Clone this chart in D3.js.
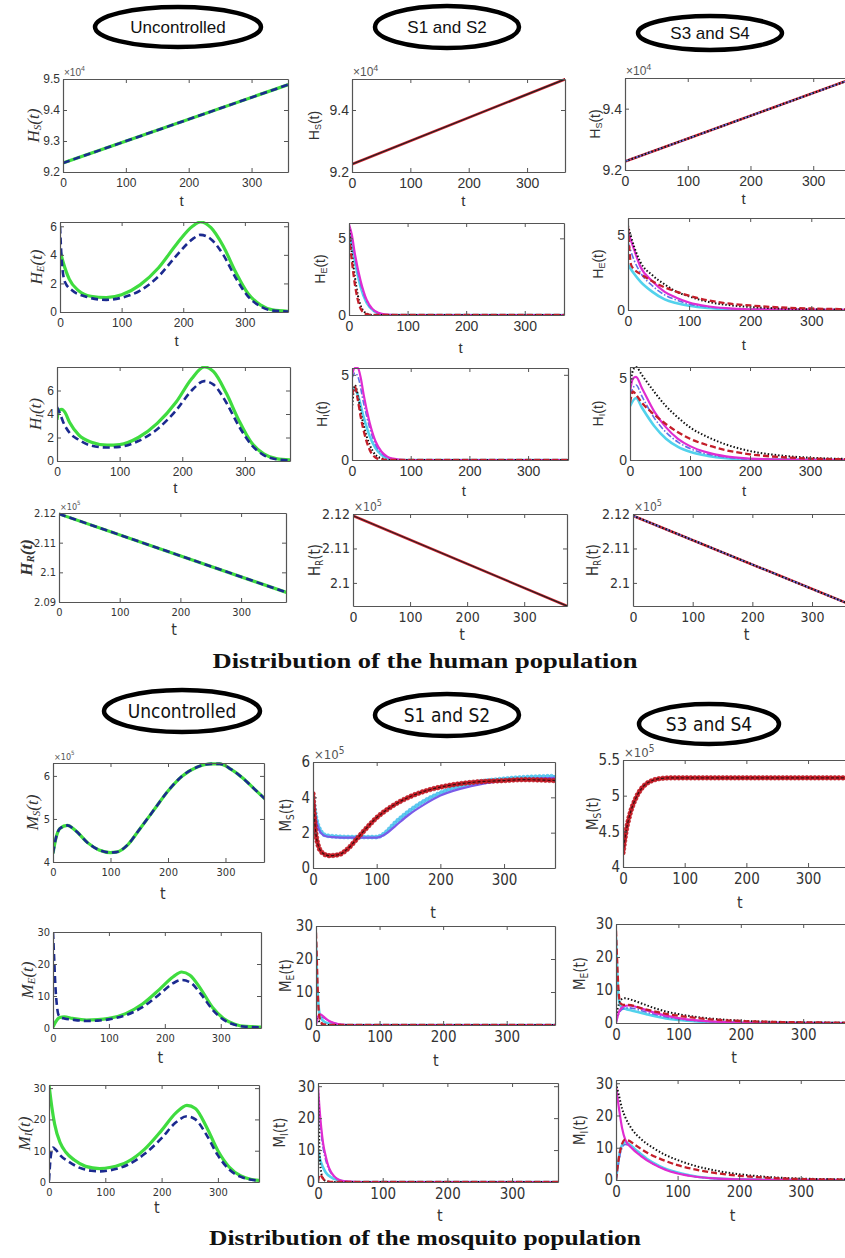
<!DOCTYPE html>
<html>
<head>
<meta charset="UTF-8">
<title>Human and mosquito populations</title>
<script src="https://d3js.org/d3.v7.min.js"></script>
<style>
  body { margin: 0; background: #fff; }
  svg { display: block; }
</style>
</head>
<body>
<div id="fig"></div>
<script>
// ---------- data (t, value) ----------
const tTicks = [0, 100, 200, 300];
const headers = ["Uncontrolled", "S1 and S2", "S3 and S4"];
const captions = ["Distribution of the human population", "Distribution of the mosquito population"];

// H_S (x10^4)
const hsUnc = [[0, 9.229], [370, 9.49]];
const hsS12 = [[0, 9.225], [370, 9.503]];
const hsS34 = [[0, 9.228], [370, 9.503]];

// H_E
const heUncGreen = [[0,4.3],[5,3.5],[15,2.3],[30,1.5],[50,1.1],[75,1.0],[100,1.2],[130,1.9],[160,3.1],[190,4.8],[215,6.0],[228,6.3],[245,5.9],[265,4.6],[285,2.8],[305,1.3],[325,0.5],[345,0.15],[372,0.05]];
const heUncNavy = [[0,6.0],[3,3.5],[8,2.1],[20,1.5],[40,1.1],[75,0.85],[100,1.0],[130,1.5],[160,2.5],[190,4.0],[215,5.1],[228,5.4],[245,5.1],[265,4.0],[285,2.4],[305,1.1],[325,0.4],[345,0.1],[372,0.03]];
const heS12Mag = [[0,5.9],[5,5.2],[10,4.0],[20,2.2],[30,1.0],[40,0.4],[50,0.15],[60,0.05],[80,0],[370,0]];
const heS12Blue = [[0,5.8],[5,5.0],[10,3.8],[20,2.0],[30,0.9],[40,0.35],[50,0.12],[60,0.03],[80,0],[370,0]];
const heS12Cyan = [[0,5.5],[10,3.5],[20,1.8],[30,0.8],[45,0.2],[60,0],[370,0]];
const heS12Black = [[0,5.8],[5,4.0],[10,2.5],[15,1.3],[20,0.6],[30,0.1],[40,0],[370,0]];
const heS12Red = [[0,5.2],[5,3.5],[10,2.0],[15,1.0],[20,0.4],[30,0.05],[40,0],[370,0]];
const heS34Black = [[0,5.6],[10,4.2],[20,3.2],[40,2.3],[60,1.7],[80,1.2],[100,0.9],[130,0.55],[160,0.35],[200,0.2],[250,0.1],[300,0.05],[370,0.02]];
const heS34Red = [[0,5.5],[5,3.0],[10,2.7],[20,2.4],[40,1.9],[60,1.5],[80,1.2],[100,0.95],[130,0.65],[160,0.45],[200,0.3],[250,0.17],[300,0.1],[370,0.05]];
const heS34Mag = [[0,5.2],[10,4.0],[20,2.9],[40,1.9],[60,1.2],[80,0.8],[100,0.5],[130,0.25],[160,0.12],[200,0.05],[370,0]];
const heS34Cyan = [[0,3.0],[10,2.4],[20,1.9],[40,1.2],[60,0.7],[80,0.45],[100,0.28],[130,0.13],[160,0.06],[200,0.02],[370,0]];
const heS34Blue = [[0,4.5],[10,3.3],[20,2.5],[40,1.6],[60,1.0],[80,0.65],[100,0.4],[130,0.2],[160,0.1],[200,0.03],[370,0]];

// H_I
const hiUncGreen = [[0,3.5],[3,4.3],[8,4.4],[12,4.2],[20,3.3],[35,2.2],[55,1.6],[80,1.35],[100,1.4],[130,2.0],[160,3.2],[190,5.0],[215,7.0],[235,8.0],[250,7.6],[270,5.8],[290,3.5],[310,1.6],[330,0.6],[350,0.2],[375,0.08]];
const hiUncNavy = [[0,4.6],[5,4.0],[10,3.3],[20,2.4],[35,1.8],[55,1.3],[80,1.15],[100,1.2],[130,1.7],[160,2.7],[190,4.3],[215,6.0],[235,6.8],[250,6.5],[270,5.0],[290,3.0],[310,1.4],[330,0.5],[350,0.15],[375,0.05]];
const hiS12Mag = [[0,5.0],[5,5.4],[10,5.4],[15,4.8],[20,3.8],[30,2.2],[40,1.1],[50,0.5],[60,0.2],[70,0.08],[90,0],[370,0]];
const hiS12Blue = [[0,4.8],[5,5.1],[10,4.9],[20,3.3],[30,1.9],[40,0.9],[50,0.4],[60,0.15],[70,0.05],[90,0],[370,0]];
const hiS12Cyan = [[0,4.0],[5,4.2],[10,3.8],[20,2.5],[30,1.4],[40,0.7],[50,0.3],[60,0.1],[80,0],[370,0]];
const hiS12Black = [[0,3.0],[5,4.4],[10,3.8],[15,2.8],[20,2.0],[30,0.9],[40,0.3],[50,0.1],[60,0],[370,0]];
const hiS12Red = [[0,3.8],[5,4.3],[10,3.5],[15,2.5],[20,1.7],[30,0.6],[40,0.15],[50,0.03],[60,0],[370,0]];
const hiS34Black = [[0,4.5],[5,5.5],[10,5.7],[20,5.2],[40,4.2],[60,3.3],[80,2.6],[100,2.0],[130,1.4],[160,0.95],[200,0.55],[250,0.28],[300,0.14],[370,0.06]];
const hiS34Red = [[0,3.5],[5,4.2],[10,4.0],[20,3.5],[40,2.8],[60,2.2],[80,1.7],[100,1.3],[130,0.9],[160,0.6],[200,0.35],[250,0.18],[300,0.09],[370,0.04]];
const hiS34Mag = [[0,4.2],[5,5.0],[10,5.1],[20,4.4],[40,3.0],[60,2.0],[80,1.3],[100,0.85],[130,0.45],[160,0.22],[200,0.09],[250,0.03],[370,0]];
const hiS34Blue = [[0,4.0],[10,4.6],[20,3.9],[40,2.6],[60,1.7],[80,1.1],[100,0.7],[130,0.35],[160,0.17],[200,0.06],[370,0]];
const hiS34Cyan = [[0,3.3],[10,3.8],[20,3.2],[40,2.1],[60,1.3],[80,0.8],[100,0.5],[130,0.25],[160,0.11],[200,0.04],[370,0]];

// H_R (x10^5)
const hrUnc = [[0, 2.1197], [375, 2.0932]];
const hrS12 = [[0, 2.1195], [375, 2.0933]];
const hrS34 = [[0, 2.1195], [370, 2.0933]];

// M_S (x10^5)
const msUnc = [[0,4.2],[5,4.55],[12,4.78],[25,4.85],[40,4.72],[60,4.45],[80,4.28],[100,4.22],[110,4.23],[130,4.4],[150,4.75],[175,5.2],[200,5.65],[225,6.0],[250,6.2],[275,6.28],[290,6.28],[310,6.15],[330,5.95],[350,5.7],[370,5.45]];
const msS12Red = [[0,4.2],[3,2.5],[8,1.3],[15,0.85],[25,0.7],[40,0.75],[55,1.1],[70,1.7],[85,2.3],[100,2.85],[120,3.4],[150,4.0],[180,4.4],[210,4.65],[250,4.85],[300,4.95],[330,5.0],[380,4.95]];
const msS12Cyan = [[0,4.0],[5,2.8],[12,2.1],[20,1.85],[30,1.8],[60,1.75],[100,1.75],[110,1.9],[130,2.6],[150,3.2],[175,3.8],[200,4.25],[250,4.8],[300,5.05],[380,5.2]];
const msS12Blue = [[0,3.8],[5,2.7],[12,2.0],[20,1.8],[30,1.75],[60,1.72],[100,1.72],[115,1.95],[130,2.4],[150,3.0],[175,3.6],[200,4.1],[250,4.65],[300,4.95],[380,5.1]];
const msS34Red = [[0,4.2],[5,4.5],[10,4.7],[20,4.95],[30,5.1],[40,5.18],[50,5.22],[60,5.24],[80,5.25],[380,5.25]];

// M_E
const meUncGreen = [[0,0.3],[5,2],[12,3.3],[20,3.5],[35,3.0],[60,2.5],[80,2.6],[100,3.0],[130,4.5],[160,7.5],[190,12],[215,16],[230,17.5],[245,16.5],[265,12],[285,6.5],[305,3],[325,1.2],[345,0.5],[375,0.3]];
const meUncNavy = [[0,30],[2,22],[4,14],[7,7],[10,4],[15,3.2],[20,3.0],[35,2.6],[60,2.2],[80,2.3],[100,2.7],[130,4],[160,6.5],[190,10.5],[215,14],[230,15],[245,14.3],[265,10.5],[285,5.8],[305,2.6],[325,1.0],[345,0.4],[375,0.2]];
const meS12Red = [[0,28],[1,22],[2,15],[3,9],[5,3],[8,0.8],[12,0.2],[20,0],[380,0]];
const meS12Cyan = [[0,25],[1,18],[2,12],[4,6],[6,3],[10,1.5],[15,0.8],[25,0.3],[40,0],[380,0]];
const meS12Mag = [[0,0],[3,2.5],[7,3.2],[12,2.5],[20,1.3],[30,0.5],[40,0.1],[50,0],[380,0]];
const meS12Blue = [[0,0],[3,2.0],[7,2.6],[12,2.2],[20,1.2],[30,0.5],[40,0.1],[50,0],[380,0]];
const meS12Black = [[0,2],[3,1.5],[8,0.5],[15,0.1],[20,0],[380,0]];
const meS34Red = [[0,28],[2,18],[4,10],[7,6],[12,5.5],[20,5.5],[40,4.5],[60,3.6],[80,2.8],[100,2.2],[130,1.5],[160,1.0],[200,0.6],[250,0.35],[300,0.2],[380,0.1]];
const meS34Black = [[0,2],[5,6],[10,7.3],[15,7.5],[25,7.0],[40,6],[60,4.6],[80,3.5],[100,2.7],[130,1.8],[160,1.2],[200,0.7],[250,0.35],[300,0.18],[380,0.08]];
const meS34Mag = [[0,0],[5,3.5],[12,5],[20,5.3],[30,5.0],[50,3.8],[70,2.7],[100,1.5],[130,0.8],[160,0.4],[200,0.15],[250,0.05],[380,0]];
const meS34Cyan = [[0,26],[2,15],[4,8],[8,5],[15,4.3],[25,3.8],[50,2.6],[80,1.4],[100,0.9],[130,0.45],[160,0.2],[200,0.07],[380,0]];
const meS34Blue = [[0,0],[5,3],[12,4.3],[20,4.6],[30,4.3],[50,3.2],[70,2.2],[100,1.2],[130,0.6],[160,0.3],[200,0.1],[380,0]];

// M_I
const miUncGreen = [[0,31],[5,24],[10,18.5],[20,12.5],[30,9.5],[45,7],[65,5],[90,4.3],[110,4.7],[140,6.5],[170,10.5],[200,16.5],[225,22],[245,24.5],[260,23.5],[280,17.5],[300,10],[320,4.8],[340,2],[360,0.8],[375,0.5]];
const miUncNavy = [[0,0.5],[3,8],[7,11],[12,10.3],[20,8.5],[35,6.5],[55,4.5],[75,3.6],[90,3.4],[110,3.8],[140,5.5],[170,9],[200,14],[225,19],[245,21],[260,20],[280,15],[300,8.5],[320,4],[340,1.7],[360,0.7],[375,0.4]];
const miS12Mag = [[0,30],[2,24],[5,17],[8,12],[12,8],[16,5],[20,3.2],[25,1.8],[30,1.0],[40,0.3],[50,0.1],[60,0],[380,0]];
const miS12Blue = [[0,29],[2,22],[5,15],[8,10.5],[12,6.8],[16,4.3],[20,2.8],[25,1.6],[30,0.9],[40,0.25],[50,0.05],[60,0],[380,0]];
const miS12Cyan = [[0,10],[2,8],[5,6],[8,4.5],[12,3],[20,1.5],[30,0.6],[40,0.15],[50,0],[380,0]];
const miS12Black = [[0,30],[1,20],[2,12],[3,7],[5,3],[8,1],[12,0.3],[20,0],[380,0]];
const miS12Red = [[0,0],[2,2],[4,2.3],[6,1.6],[10,0.6],[15,0.2],[25,0],[380,0]];
const miS34Black = [[0,30],[5,26],[10,22],[15,19.5],[25,16],[40,12.8],[60,10],[80,7.8],[100,6.2],[130,4.3],[160,3.0],[200,1.8],[250,0.9],[300,0.45],[385,0.2]];
const miS34Red = [[0,0],[4,6],[8,10],[15,12.5],[20,12.3],[30,11],[50,8.5],[70,6.7],[100,4.6],[130,3.2],[160,2.2],[200,1.3],[250,0.65],[300,0.3],[385,0.12]];
const miS34Mag = [[0,29],[5,22],[10,16],[15,12.5],[25,10],[40,7.5],[60,5.0],[80,3.2],[100,2.0],[130,1.0],[160,0.5],[200,0.2],[250,0.05],[385,0]];
const miS34Cyan = [[0,0],[4,6],[8,10],[15,11.7],[20,11.3],[30,9.7],[50,6.6],[70,4.4],[100,2.3],[130,1.1],[160,0.5],[200,0.18],[250,0.05],[385,0]];
const miS34Blue = [[0,0],[4,5],[8,9],[15,11],[20,10.8],[30,9.2],[50,6.2],[70,4.1],[100,2.1],[130,1.0],[160,0.45],[200,0.15],[385,0]];

// ---------- styles ----------
const SANS = "'Liberation Sans', Arial, sans-serif";
const NARROW = "'Liberation Sans Narrow', 'DejaVu Sans Condensed', Roboto, sans-serif";
const SERIF = "'Liberation Serif', 'DejaVu Serif', serif";

const styles = {
  green:   {stroke: "#3fdc3f", width: 3.2},
  navy:    {stroke: "#1b2a8f", width: 2.6, dash: "7,4"},
  redLine: {stroke: "#d62430", width: 2.6},
  blackLn: {stroke: "#222", width: 1.2},
  red:     {stroke: "#c41e2a", width: 2.3, dash: "6,3"},
  black:   {stroke: "#111", width: 2, dash: "1.5,2"},
  magenta: {stroke: "#e02cd0", width: 2.2},
  cyan:    {stroke: "#52d2ec", width: 2.6},
  blue:    {stroke: "#6070e6", width: 1.6, dash: "6,2,1.5,2"},
  redMark: {stroke: "#b8141e", width: 2.2, marker: 2.3, step: 4, mfill: "#c8202a"},
  cyanMark:{stroke: "#48bce8", width: 2.4, marker: 2.0, step: 4, mfill: "#5ccaf0"},
  blueSol: {stroke: "#7a5ae8", width: 2.2},
  blackDk: {stroke: "#3a1010", width: 1.2, dash: "3,2"}
};

const S = (data, style) => ({data, style});
const s12Set = (m, b, c, k, r) => [S(c, "cyan"), S(b, "blue"), S(m, "magenta"), S(k, "black"), S(r, "red")];

// ---------- panel layout ----------
const panels = [
  // row 1 H_S
  {box:[63,79,288,172], xmax:358, ydom:[9.2,9.5], yt:[9.2,9.3,9.4,9.5], exp:"4", lab:["H","S"], math:true, fs:12, ldx:30, tdy:28,
   series:[S(hsUnc,"green"), S(hsUnc,"navy")]},
  {box:[352,79,565,172], xmax:365, ydom:[9.2,9.5], yt:[9.2,9.4], exp:"4", lab:["H","S"], fs:14, ldx:38, tdy:28,
   series:[S(hsS12,"redLine"), S(hsS12,"blackLn")]},
  {box:[625,78,854,170], xmax:365, ydom:[9.2,9.5], yt:[9.2,9.4], exp:"4", lab:["H","S"], fs:14, ldx:30, tdy:28,
   series:[S(hsS34,"redLine"), S(hsS34,"blue"), S(hsS34,"black")]},
  // row 2 H_E
  {box:[60,222,288,312], xmax:370, ydom:[0,6.3], yt:[0,2,4,6], lab:["H","E"], math:true, fs:12, ldx:24, tdy:28,
   series:[S(heUncGreen,"green"), S(heUncNavy,"navy")]},
  {box:[349,223,564,315], xmax:367, ydom:[0,6], yt:[0,5], lab:["H","E"], fs:14, ldx:29, tdy:32,
   series:s12Set(heS12Mag, heS12Blue, heS12Cyan, heS12Black, heS12Red)},
  {box:[628,218,851,310], xmax:365, ydom:[0,6.1], yt:[0,5], lab:["H","E"], fs:14, ldx:30, tdy:34,
   series:s12Set(heS34Mag, heS34Blue, heS34Cyan, heS34Black, heS34Red)},
  // row 3 H_I
  {box:[57,367,290,461], xmax:372, ydom:[0,8], yt:[0,2,4,6], lab:["H","I"], math:true, fs:12, ldx:22, tdy:26,
   series:[S(hiUncGreen,"green"), S(hiUncNavy,"navy")]},
  {box:[352,368,568,460], xmax:368, ydom:[0,5.4], yt:[0,5], lab:["H","I"], fs:14, ldx:30, tdy:30,
   series:s12Set(hiS12Mag, hiS12Blue, hiS12Cyan, hiS12Black, hiS12Red)},
  {box:[630,367,849,460], xmax:365, ydom:[0,5.7], yt:[0,5], lab:["H","I"], fs:14, ldx:32, tdy:30,
   series:s12Set(hiS34Mag, hiS34Blue, hiS34Cyan, hiS34Black, hiS34Red)},
  // row 4 H_R
  {box:[59,513,286,602], xmax:374, ydom:[2.09,2.12], yt:[2.09,2.1,2.11,2.12], exp:"5", lab:["H","R"], math:true, bold:true, narrow:true, fs:11, ldx:33, tdy:27,
   series:[S(hrUnc,"green"), S(hrUnc,"navy")]},
  {box:[353,514,567,606], xmax:375, ydom:[2.0933,2.12], yt:[2.1,2.11,2.12], exp:"5", lab:["H","R"], narrow:true, fs:14, ldx:38, tdy:28,
   series:[S(hrS12,"redLine"), S(hrS12,"blackLn")]},
  {box:[633,514,852,606], xmax:367, ydom:[2.0933,2.12], yt:[2.1,2.11,2.12], exp:"5", lab:["H","R"], narrow:true, fs:14, ldx:40, tdy:28,
   series:[S(hrS34,"redLine"), S(hrS34,"blue"), S(hrS34,"black")]},
  // row 5 M_S
  {box:[53,763,264,862], xmax:367, ydom:[4,6.3], yt:[4,5,6], exp:"5", lab:["M","S"], math:true, narrow:true, fs:11, ldx:21, tdy:31,
   series:[S(msUnc,"green"), S(msUnc,"navy")]},
  {box:[313,762,555,868], xmax:380, ydom:[0,6], yt:[0,2,4,6], exp:"5", lab:["M","S"], narrow:true, fs:15, ldx:27, tdy:44,
   series:[S(msS12Cyan,"cyanMark"), S(msS12Blue,"blueSol"), S(msS12Red,"redMark"), S(msS12Red,"blackDk")]},
  {box:[623,760,850,867], xmax:368, ydom:[4,5.5], yt:[4,4.5,5,5.5], exp:"5", lab:["M","S"], narrow:true, fs:15, ldx:30, tdy:35,
   series:[S(msS34Red,"redMark"), S(msS34Red,"blackDk")]},
  // row 6 M_E
  {box:[53,932,261,1028], xmax:372, ydom:[0,30], yt:[0,10,20,30], lab:["M","E"], math:true, narrow:true, fs:11, ldx:26, tdy:29,
   series:[S(meUncGreen,"green"), S(meUncNavy,"navy")]},
  {box:[316,926,555,1025], xmax:376, ydom:[0,30], yt:[0,10,20,30], lab:["M","E"], narrow:true, fs:15, ldx:30, tdy:35,
   series:s12Set(meS12Mag, meS12Blue, meS12Cyan, meS12Black, meS12Red)},
  {box:[616,924,850,1023], xmax:375, ydom:[0,30], yt:[0,10,20,30], lab:["M","E"], narrow:true, fs:15, ldx:36, tdy:34,
   series:s12Set(meS34Mag, meS34Blue, meS34Cyan, meS34Black, meS34Red)},
  // row 7 M_I
  {box:[49,1085,259,1182], xmax:373, ydom:[0,31], yt:[0,10,20,30], lab:["M","I"], math:true, narrow:true, fs:11, ldx:25, tdy:25,
   series:[S(miUncGreen,"green"), S(miUncNavy,"navy")]},
  {box:[318,1083,558,1182], xmax:371, ydom:[0,31], yt:[0,10,20,30], lab:["M","I"], narrow:true, fs:15, ldx:38, tdy:33,
   series:s12Set(miS12Mag, miS12Blue, miS12Cyan, miS12Black, miS12Red)},
  {box:[616,1080,850,1180], xmax:380, ydom:[0,31], yt:[0,10,20,30], lab:["M","I"], narrow:true, fs:15, ldx:36, tdy:35,
   series:s12Set(miS34Mag, miS34Blue, miS34Cyan, miS34Black, miS34Red)}
];

// header ellipses: [cx, cy, rx, ry, narrow]
const ellipses = [
  [178, 27, 83, 20, false], [447, 27, 72, 21, false], [710, 33, 72, 17, false],
  [182, 711, 78, 21, true], [447, 715, 72, 21, true], [709, 724, 70, 20, true]
];

// ---------- draw ----------
const W = 845, H = 1258;
const svg = d3.select("#fig").append("svg").attr("width", W).attr("height", H);
svg.append("rect").attr("width", W).attr("height", H).attr("fill", "#fff");
const defs = svg.append("defs");

ellipses.forEach((e, i) => {
  const [cx, cy, rx, ry, narrow] = e;
  svg.append("ellipse").attr("cx", cx).attr("cy", cy).attr("rx", rx).attr("ry", ry)
    .attr("fill", "#fff").attr("stroke", "#000").attr("stroke-width", 4.5);
  svg.append("text").attr("x", cx).attr("y", cy).attr("text-anchor", "middle")
    .attr("dominant-baseline", "central")
    .attr("font-family", narrow ? NARROW : SANS).attr("font-stretch", narrow ? "condensed" : null)
    .attr("font-size", narrow ? 19 : 17)
    .attr("fill", "#111").text(headers[i % 3]);
});

panels.forEach((p, i) => {
  const [x0, y0, x1, y1] = p.box;
  const x = d3.scaleLinear().domain([0, p.xmax]).range([x0, x1]);
  const y = d3.scaleLinear().domain(p.ydom).range([y1, y0]);
  const font = p.narrow ? NARROW : SANS;
  const g = svg.append("g").attr("font-stretch", p.narrow ? "condensed" : null);

  defs.append("clipPath").attr("id", "c" + i).append("rect")
    .attr("x", x0).attr("y", y0 - 1).attr("width", x1 - x0).attr("height", y1 - y0 + 1);

  const line = d3.line().x(d => x(d[0])).y(d => y(d[1])).curve(d3.curveMonotoneX);
  const lg = g.append("g").attr("clip-path", `url(#c${i})`);
  p.series.forEach(s => {
    const st = styles[s.style];
    const path = lg.append("path").datum(s.data).attr("d", line)
      .attr("fill", "none").attr("stroke", st.stroke).attr("stroke-width", st.width)
      .attr("stroke-linejoin", "round")
      .attr("stroke-dasharray", st.dash || null);
    if (st.marker) {
      const node = path.node(), len = node.getTotalLength();
      const pts = d3.range(0, len, st.step).map(l => node.getPointAtLength(l));
      lg.append("g").selectAll("circle").data(pts).join("circle")
        .attr("cx", d => d.x).attr("cy", d => d.y).attr("r", st.marker)
        .attr("fill", st.mfill).attr("stroke", st.stroke).attr("stroke-width", 0.6);
    }
  });

  // axes on all four sides, ticks pointing in
  const style = sel => {
    sel.attr("font-family", font).attr("font-size", p.fs).attr("fill", "#333");
    sel.select(".domain").attr("stroke", "#555").attr("stroke-width", 1.2);
    sel.selectAll(".tick line").attr("stroke", "#555");
    sel.selectAll(".tick text").attr("fill", "#333");
  };
  const fmt = d3.format("~g");
  g.append("g").attr("transform", `translate(0,${y1})`)
    .call(d3.axisBottom(x).tickValues(tTicks).tickSize(-4).tickSizeOuter(0).tickPadding(6).tickFormat(fmt)).call(style);
  g.append("g").attr("transform", `translate(0,${y0})`)
    .call(d3.axisTop(x).tickValues(tTicks).tickSize(-4).tickSizeOuter(0).tickFormat("")).call(style);
  g.append("g").attr("transform", `translate(${x0},0)`)
    .call(d3.axisLeft(y).tickValues(p.yt).tickSize(-4).tickSizeOuter(0).tickPadding(3).tickFormat(fmt)).call(style);
  g.append("g").attr("transform", `translate(${x1},0)`)
    .call(d3.axisRight(y).tickValues(p.yt).tickSize(-4).tickSizeOuter(0).tickFormat("")).call(style);

  // exponent
  if (p.exp) {
    const ex = g.append("text").attr("x", x0 + 1).attr("y", y0 - 3)
      .attr("font-family", font).attr("font-size", p.fs - 2).attr("fill", "#555");
    ex.append("tspan").text("\u00d710");
    ex.append("tspan").attr("dy", -5).attr("font-size", p.fs - 5).text(p.exp);
  }

  // x label
  g.append("text").attr("x", x(0) + (x(300) - x(0)) * 0.55 + 15)
    .attr("y", y1 + p.tdy).attr("text-anchor", "middle").attr("dominant-baseline", "central")
    .attr("font-family", font).attr("font-size", p.narrow ? 16 : 15)
    .attr("fill", "#333").text("t");

  // y label
  const ly = (y0 + y1) / 2, lx = x0 - p.ldx;
  const yl = g.append("text").attr("transform", `translate(${lx},${ly}) rotate(-90)`)
    .attr("text-anchor", "middle").attr("dominant-baseline", "central").attr("fill", "#333");
  if (p.math) {
    yl.attr("font-family", SERIF).attr("font-style", "italic").attr("font-size", 17)
      .attr("font-weight", p.bold ? "bold" : null);
    yl.append("tspan").text(p.lab[0]);
    yl.append("tspan").attr("dy", 4).attr("font-size", 11).text(p.lab[1]);
    yl.append("tspan").attr("dy", -4).text("(t)");
  } else {
    yl.attr("font-family", font).attr("font-size", p.narrow ? 15 : 14);
    yl.append("tspan").text(p.lab[0]);
    yl.append("tspan").attr("dy", 4).attr("font-size", p.narrow ? 10 : 9).text(p.lab[1]);
    yl.append("tspan").attr("dy", -4).text("(t)");
  }
});

// captions
[[425, 661, 425], [425, 1238, 432]].forEach((c, i) => {
  svg.append("text").attr("x", c[0]).attr("y", c[1]).attr("text-anchor", "middle")
    .attr("dominant-baseline", "central")
    .attr("font-family", SERIF).attr("font-weight", "bold").attr("font-size", 21)
    .attr("textLength", c[2]).attr("lengthAdjust", "spacingAndGlyphs")
    .attr("fill", "#111").text(captions[i]);
});
</script>
</body>
</html>
